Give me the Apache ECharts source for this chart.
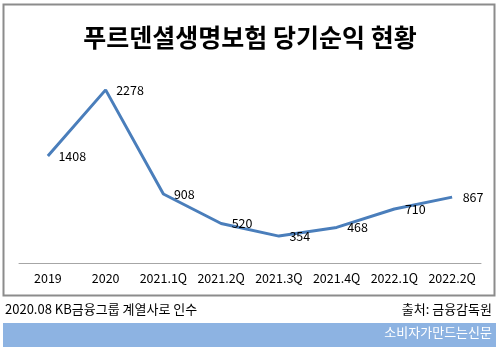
<!DOCTYPE html>
<html><head><meta charset="utf-8">
<script src="https://cdn.jsdelivr.net/npm/echarts@6/dist/echarts.min.js"></script>
<style>html,body{margin:0;padding:0;background:#fff;}#c{width:500px;height:351px;}</style>
</head><body><div id="c"></div>
<script>
const categories = ['2019','2020','2021.1Q','2021.2Q','2021.3Q','2021.4Q','2022.1Q','2022.2Q'];
const netIncome = [1408, 2278, 908, 520, 354, 468, 710, 867];
const titleText = '푸르덴셜생명보험 당기순익 현황';
const noteText = '2020.08 KB금융그룹 계열사로 인수';
const sourceText = '출처: 금융감독원';
const brandText = '소비자가만드는신문';

const FONT = '"Noto Sans CJK KR", "Noto Sans", sans-serif';
const chart = echarts.init(document.getElementById('c'));
chart.setOption({
  animation: false,
  backgroundColor: '#fff',
  title: {
    text: titleText, left: 'center', top: 20,
    textStyle: {fontFamily: FONT, fontSize: 25, fontWeight: 'bold', color: '#000'}
  },
  grid: {left: 19, right: 19, top: 73, bottom: 88},
  xAxis: {
    type: 'category', data: categories, boundaryGap: true,
    axisLine: {show: true, lineStyle: {color: '#a6a6a6', width: 1}},
    axisTick: {show: false},
    axisLabel: {color: '#000', fontSize: 12.5, fontFamily: FONT, margin: 9, interval: 0}
  },
  yAxis: {type: 'value', min: 0, max: 2500, show: false, splitLine: {show: false}},
  series: [{
    type: 'line', data: netIncome, symbol: 'circle', symbolSize: 1, showSymbol: true,
    itemStyle: {color: 'rgba(0,0,0,0)', borderWidth: 0},
    lineStyle: {color: '#4a7ebb', width: 3},
    label: {show: true, position: 'right', distance: 10, color: '#000', fontSize: 12.5, fontFamily: FONT}
  }],
  graphic: [
    {type: 'rect', shape: {x: 3.5, y: 4.5, width: 491, height: 291}, style: {fill: 'none', stroke: '#8c8c8c', lineWidth: 2}, silent: true},
    {type: 'text', left: 5, top: 303, style: {text: noteText, font: '13px ' + FONT, fill: '#000'}},
    {type: 'text', right: 8, top: 303, style: {text: sourceText, font: '13px ' + FONT, fill: '#000'}},
    {type: 'rect', shape: {x: 3, y: 323, width: 493, height: 24}, style: {fill: '#8db3e2'}},
    {type: 'text', right: 8, top: 326, style: {text: brandText, font: '13px ' + FONT, fill: '#fff'}}
  ]
});
</script></body></html>
